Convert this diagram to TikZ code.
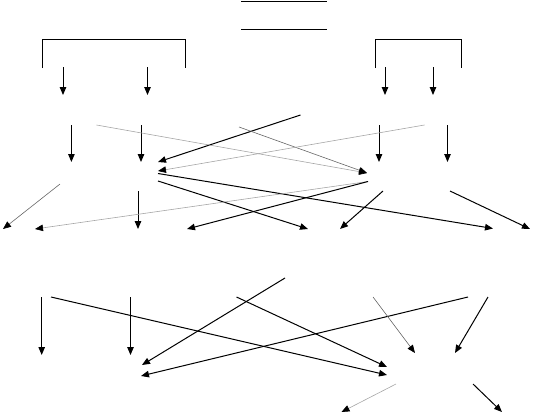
\documentclass[tikz,border=0pt]{standalone}
\usepackage{tikz}
\usetikzlibrary{arrows.meta}

\begin{document}
\begin{tikzpicture}[x=1pt,y=-1pt,
  ln/.style={line width=1pt},
  arr/.style={-{Triangle[length=8pt,width=6.5pt]},line width=1pt},
  farr/.style={-{Triangle[length=8pt,width=6.5pt,color=black]},line width=0.6pt,draw=black!35},
  harr/.style={farr,draw=black!60}
]
\useasboundingbox (0,0) rectangle (533,415);
% header rules and brackets
\coordinate (hdA) at (241,1.2);   \coordinate (hdB) at (327,1.2);
\coordinate (hdC) at (241,29);    \coordinate (hdD) at (327,29);
\coordinate (lbA) at (42.5,68);   \coordinate (lbB) at (42.5,39.5);
\coordinate (lbC) at (185,39.5);  \coordinate (lbD) at (185,68);
\coordinate (rbA) at (375,68);    \coordinate (rbB) at (375,39.5);
\coordinate (rbC) at (461,39.5);  \coordinate (rbD) at (461,68);
\draw[ln] (hdA) -- (hdB);
\draw[ln] (hdC) -- (hdD);
\draw[ln] (lbA) -- (lbB) -- (lbC) -- (lbD);
\draw[ln] (rbA) -- (rbB) -- (rbC) -- (rbD);
% straight down arrows
\foreach \n/\x/\ya/\yb in {d1/63/67/95, d2/147.5/67/95, d3/385/67/95, d4/433/67/95,
    v1/71.4/125/162, v2/141/125/162, v3/379/125/162, v4/447.5/125/162,
    v5/138/191/229, v6/41.7/297/355, v7/130.5/297/355}{
  \coordinate (\n s) at (\x,\ya);
  \coordinate (\n e) at (\x,\yb);
  \draw[arr] (\n s) -- (\n e);
}
% crossing arrows, upper block
\coordinate (c1s) at (300.5,115);  \coordinate (c1e) at (158,162);
\coordinate (c2s) at (96.5,125);   \coordinate (mR)  at (367,173);
\coordinate (c3s) at (239,127);
\coordinate (c4s) at (424.5,125);  \coordinate (mL)  at (158,171);
\coordinate (c5s) at (158,181);    \coordinate (c5e) at (308,229);
\coordinate (c6s) at (158,173.5);  \coordinate (c6e) at (493,228.5);
\coordinate (c7s) at (368,181.5);  \coordinate (c7e) at (35,229);
\coordinate (c8e) at (187,229);
\coordinate (c9s) at (60,184);     \coordinate (c9e) at (3,229);
\coordinate (c10s) at (383,191);   \coordinate (c10e) at (340,229);
\coordinate (c11s) at (450,191);   \coordinate (c11e) at (530,229);
\draw[arr] (c1s) -- (c1e);
\draw[farr] (c2s) -- (mR);
\draw[harr] (c3s) -- (mR);
\draw[farr] (c4s) -- (mL);
\draw[arr] (c5s) -- (c5e);
\draw[arr] (c6s) -- (c6e);
\draw[farr] (c7s) -- (c7e);
\draw[arr] (c7s) -- (c8e);
\draw[harr] (c9s) -- (c9e);
\draw[arr] (c10s) -- (c10e);
\draw[arr] (c11s) -- (c11e);
% crossing arrows, lower block
\coordinate (c12s) at (51,297);    \coordinate (c12e) at (387,375);
\coordinate (c13s) at (285,278);   \coordinate (c13e) at (142,365);
\coordinate (c14s) at (236.5,297); \coordinate (c14e) at (387,367);
\coordinate (c15s) at (468,297);   \coordinate (c15e) at (141,376);
\coordinate (c16s) at (373,297);   \coordinate (c16e) at (415,353);
\coordinate (c17s) at (488,297);   \coordinate (c17e) at (455,353);
\coordinate (c18s) at (396,384);   \coordinate (c18e) at (341.5,412);
\coordinate (c19s) at (473,384);   \coordinate (c19e) at (502,412);
\draw[arr] (c12s) -- (c12e);
\draw[arr] (c13s) -- (c13e);
\draw[arr] (c14s) -- (c14e);
\draw[arr] (c15s) -- (c15e);
\draw[harr] (c16s) -- (c16e);
\draw[arr] (c17s) -- (c17e);
\draw[farr] (c18s) -- (c18e);
\draw[arr] (c19s) -- (c19e);
\end{tikzpicture}
\end{document}
